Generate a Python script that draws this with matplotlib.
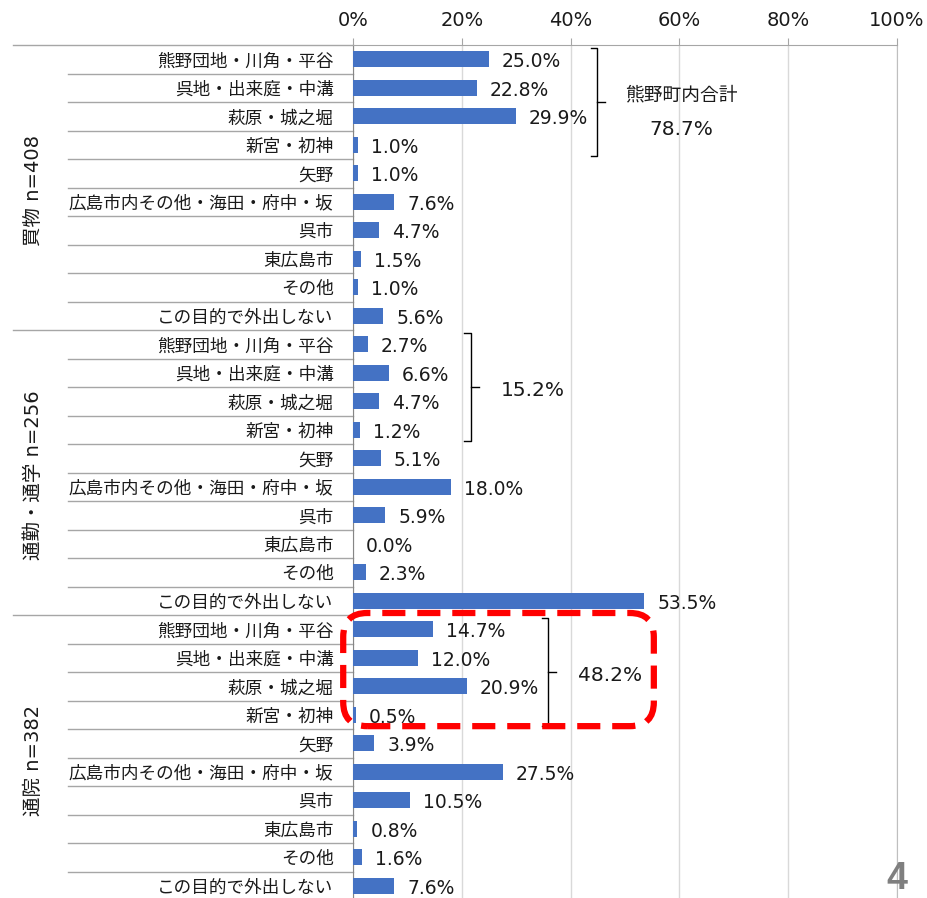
import numpy as np
import matplotlib.pyplot as plt
from matplotlib.patches import FancyBboxPatch
from matplotlib.transforms import IdentityTransform, blended_transform_factory

plt.rcParams['font.family'] = ['DejaVu Sans', 'Noto Sans CJK JP']

# data
places = ['熊野団地・川角・平谷', '呉地・出来庭・中溝', '萩原・城之堀', '新宮・初神', '矢野',
          '広島市内その他・海田・府中・坂', '呉市', '東広島市', 'その他', 'この目的で外出しない']
groups = ['買物 n=408', '通勤・通学 n=256', '通院 n=382']
shopping = [25.0, 22.8, 29.9, 1.0, 1.0, 7.6, 4.7, 1.5, 1.0, 5.6]
commute = [2.7, 6.6, 4.7, 1.2, 5.1, 18.0, 5.9, 0.0, 2.3, 53.5]
hospital = [14.7, 12.0, 20.9, 0.5, 3.9, 27.5, 10.5, 0.8, 1.6, 7.6]
town_totals = [78.7, 15.2, 48.2]
xticks = [0, 20, 40, 60, 80, 100]
xticklabels = ['0%', '20%', '40%', '60%', '80%', '100%']

values = shopping + commute + hospital
n = len(places)
y = np.arange(len(values))
txt = '#1a1a1a'

fig = plt.figure(figsize=(9.28, 8.98), dpi=100)
ax = fig.add_axes([353/928, -2/898, 544/928, 855/898])
ax.barh(y, values, height=0.57, color='#4472C4', zorder=3)
ax.set_xlim(0, 100)
ax.set_ylim(len(values) - 0.5, -0.5)

ax.xaxis.tick_top()
ax.set_xticks(xticks, xticklabels)
ax.tick_params(axis='x', length=5, color='#a6a6a6', pad=6, labelsize=14, labelcolor=txt)
ax.set_yticks(y, places * len(groups))
ax.tick_params(axis='y', length=0, pad=14, labelsize=12.7, labelcolor=txt)
ax.grid(axis='x', color='#d9d9d9', lw=1)
ax.set_axisbelow(True)
ax.spines['bottom'].set_visible(False)
ax.spines['left'].set_color('#868686')
ax.spines['top'].set_color('#a6a6a6')
ax.spines['right'].set_color('#bfbfbf')

# value labels
for yi, v in zip(y, values):
    ax.text(v + 2.4, yi + 0.08, f'{v:.1f}%', va='center', ha='left', fontsize=13.5, color=txt)

# separator lines in the label area
bt = blended_transform_factory(ax.transAxes, ax.transData)
for i in range(len(values)):
    xs = -0.625 if i % n == 0 else -0.524
    ax.plot([xs, 0], [i - 0.5, i - 0.5], transform=bt, clip_on=False, color='#a6a6a6', lw=1)

# group labels
for g, name in enumerate(groups):
    ax.text(-0.588, g * n + 4.6, name, transform=bt, rotation=90, ha='center', va='center',
            fontsize=14, color=txt)

# brackets for the town totals
for g, tot in enumerate(town_totals):
    vals = values[g * n:g * n + 4]
    bx = max(vals) + 15
    y0, y1, ym = g * n - 0.38, g * n + 3.38, g * n + 1.5
    ax.plot([bx - 1.2, bx, bx, bx - 1.2], [y0, y0, y1, y1], color='black', lw=1, clip_on=False, zorder=4)
    ax.plot([bx, bx + 1.5], [ym, ym], color='black', lw=1, clip_on=False, zorder=4)
    if g == 0:
        ax.text(bx + 15.5, g * n + 1.25, '熊野町内合計', ha='center', va='center', fontsize=13.5, color=txt)
        ax.text(bx + 15.5, g * n + 2.45, f'{tot:.1f}%', ha='center', va='center', fontsize=14.5, color=txt)
    else:
        ax.text(bx + 5.5, ym + 0.12, f'{tot:.1f}%', ha='left', va='center', fontsize=14.5, color=txt)

# red dashed highlight around the hospital group
(px0, py0) = ax.transData.transform((-1.8, 2 * n + 3.4))
(px1, py1) = ax.transData.transform((55.3, 2 * n - 0.57))
box = FancyBboxPatch((px0, py0), px1 - px0, py1 - py0,
                     boxstyle='round,pad=0,rounding_size=24', transform=IdentityTransform(),
                     fill=False, edgecolor='#FF0000', lw=4.5, linestyle=(0, (3.7, 1.9)),
                     clip_on=False, zorder=6)
ax.add_patch(box)

fig.text(897/928, 1/898, '4', fontsize=27, fontweight='bold', color='#7f7f7f',
         ha='center', va='bottom', family='Liberation Sans')

fig.savefig('out.png', dpi=100)
